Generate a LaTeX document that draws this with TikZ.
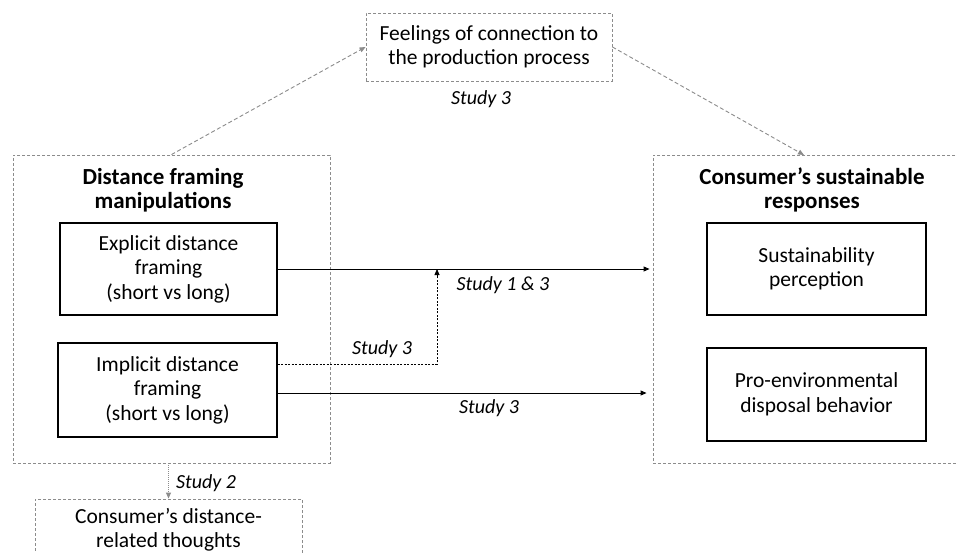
\documentclass[tikz,border=0pt]{standalone}
\usepackage{fontspec}
\setmainfont{Carlito}
\usetikzlibrary{arrows.meta}
\definecolor{dgray}{HTML}{8C8C8C}
\tikzset{
  txt/.style={font=\fontsize{21.5}{24.5}\selectfont, align=center, execute at begin node={\rule{0pt}{22pt}}},
  outerbox/.style={draw=dgray, line width=0.9pt, dash pattern=on 3pt off 2pt, rectangle, inner sep=0pt},
  innerbox/.style={draw=black, line width=1.3pt, rectangle, inner sep=0pt, txt},
  ttl/.style={font=\fontsize{23}{24.5}\selectfont\bfseries, align=center},
  lbl/.style={font=\fontsize{20}{24}\selectfont\itshape},
  tip/.style={-{Triangle[length=6pt,width=5pt]}},
  solidarr/.style={tip, draw=black, line width=0.9pt},
  grayarr/.style={tip, draw=dgray, line width=0.9pt, dash pattern=on 4pt off 2.5pt},
}
\begin{document}
\begin{tikzpicture}[x=1pt,y=-1pt]
\clip (0,0) rectangle (957,553);
\fill[white] (0,0) rectangle (957,553);
% outer boxes
\node[outerbox, txt, minimum width=246pt, minimum height=68pt] (feel) at (489,47) {Feelings of connection to\\the production process};
\node[outerbox, minimum width=317pt, minimum height=308pt] (left) at (171.5,309) {};
\node[outerbox, minimum width=327pt, minimum height=308pt] (right) at (816.5,309) {};
\node[outerbox, txt, minimum width=267pt, minimum height=62pt] (thoughts) at (168.5,530) {Consumer’s distance-\\related thoughts};
% titles
\node[ttl] (ltitle) at (163,190) {Distance framing\\manipulations};
\node[ttl] (rtitle) at (812,190) {Consumer’s sustainable\\responses};
% inner boxes
\node[innerbox, minimum width=217pt, minimum height=92pt] (explicit) at (168.5,269) {Explicit distance\\framing\\(short vs long)};
\node[innerbox, minimum width=219pt, minimum height=94pt] (implicit) at (167.5,390) {Implicit distance\\framing\\(short vs long)};
\node[innerbox, minimum width=219pt, minimum height=92pt] (sust) at (816.5,269) {Sustainability\\perception};
\node[innerbox, minimum width=219pt, minimum height=93pt] (proenv) at (816.5,394.5) {Pro-environmental\\disposal behavior};
% coordinates
\coordinate (mod) at (437,269);
\coordinate (rtop) at (804,155);
% arrows
\draw[solidarr, shorten >=3pt] (explicit.east) -- (explicit.east -| right.west);
\draw[solidarr, shorten >=6pt] ([yshift=-3pt]implicit.east) -- ([yshift=-3pt]implicit.east -| right.west);
\draw[tip, draw=black, line width=0.8pt, dash pattern=on 2pt off 1.5pt] ([yshift=26pt]implicit.east) -| (mod);
\draw[grayarr] (left.north) -- (feel.west);
\draw[grayarr] (feel.east) -- (rtop);
\draw[tip, draw=dgray, line width=0.9pt, dash pattern=on 1pt off 1pt, shorten <=2pt] (thoughts.north |- left.south) -- (thoughts.north);
% labels
\node[lbl] (l13) at (503,285) {Study 1 \& 3};
\node[lbl] (l3a) at (382,349) {Study 3};
\node[lbl] (l3b) at (489,408) {Study 3};
\node[lbl] (l2) at (206,483) {Study 2};
\node[lbl] (l3t) at (481,99) {Study 3};
\end{tikzpicture}
\end{document}
